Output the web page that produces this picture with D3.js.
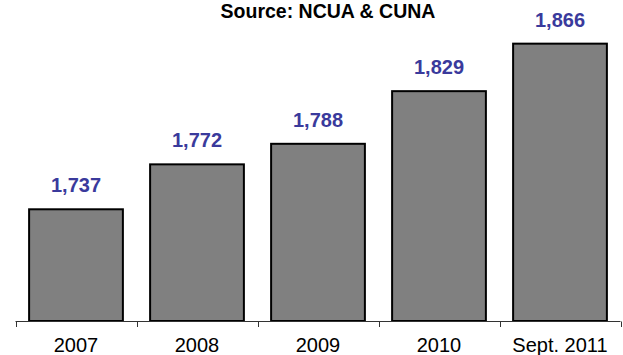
<!DOCTYPE html>
<html>
<head>
<meta charset="utf-8">
<script src="https://cdn.jsdelivr.net/npm/d3@7"></script>
<style>
  body { margin: 0; background: #fff; }
  svg { display: block; font-family: "Liberation Sans", Arial, sans-serif; }
</style>
</head>
<body>
<svg id="chart"></svg>
<script>
const categories = ["2007", "2008", "2009", "2010", "Sept. 2011"];
const values = [1737, 1772, 1788, 1829, 1866];
const valueLabels = ["1,737", "1,772", "1,788", "1,829", "1,866"];
const title = "Source: NCUA & CUNA";

const width = 623, height = 355;
const svg = d3.select("#chart").attr("width", width).attr("height", height);

// x band from first to last tick, y starts at 1650 (not zero)
const x = d3.scaleBand().domain(categories).range([15.5, 620.5]).paddingInner(0.225).paddingOuter(0.1125);
const y = d3.scaleLinear().domain([1650, 1900]).range([321, 0]);

svg.append("text")
    .attr("x", 328)
    .attr("y", 18)
    .attr("text-anchor", "middle")
    .style("font-size", "19.5px")
    .style("font-weight", "bold")
    .style("fill", "#000")
    .text(title);

// bars
svg.selectAll("rect.bar")
    .data(values)
    .enter().append("rect")
    .attr("class", "bar")
    .attr("x", (d, i) => x(categories[i]))
    .attr("y", d => y(d))
    .attr("width", x.bandwidth())
    .attr("height", d => y(1650) - y(d))
    .attr("fill", "#808080")
    .attr("stroke", "#000")
    .attr("stroke-width", 2);

// value labels
svg.selectAll("text.val")
    .data(values)
    .enter().append("text")
    .attr("class", "val")
    .attr("x", (d, i) => x(categories[i]) + x.bandwidth() / 2)
    .attr("y", d => y(d) - 17)
    .attr("text-anchor", "middle")
    .style("font-size", "20px")
    .style("font-weight", "bold")
    .style("fill", "#3a3a9c")
    .text((d, i) => valueLabels[i]);

// x axis: line with ticks between categories
const axis = svg.append("g");
axis.append("line")
    .attr("x1", 15.5).attr("x2", 620.5)
    .attr("y1", 321.5).attr("y2", 321.5)
    .attr("stroke", "#333").attr("stroke-width", 1);

const tickPos = d3.range(categories.length + 1).map(i => 15.5 + i * (605 / categories.length));
axis.selectAll("line.tick")
    .data(tickPos)
    .enter().append("line")
    .attr("class", "tick")
    .attr("x1", d => Math.round(d) + 0.5).attr("x2", d => Math.round(d) + 0.5)
    .attr("y1", 321.5).attr("y2", 327)
    .attr("stroke", "#333").attr("stroke-width", 1);

axis.selectAll("text")
    .data(categories)
    .enter().append("text")
    .attr("x", d => x(d) + x.bandwidth() / 2)
    .attr("y", 352)
    .attr("text-anchor", "middle")
    .style("font-size", "20px")
    .style("fill", "#000")
    .text(d => d);
</script>
</body>
</html>
